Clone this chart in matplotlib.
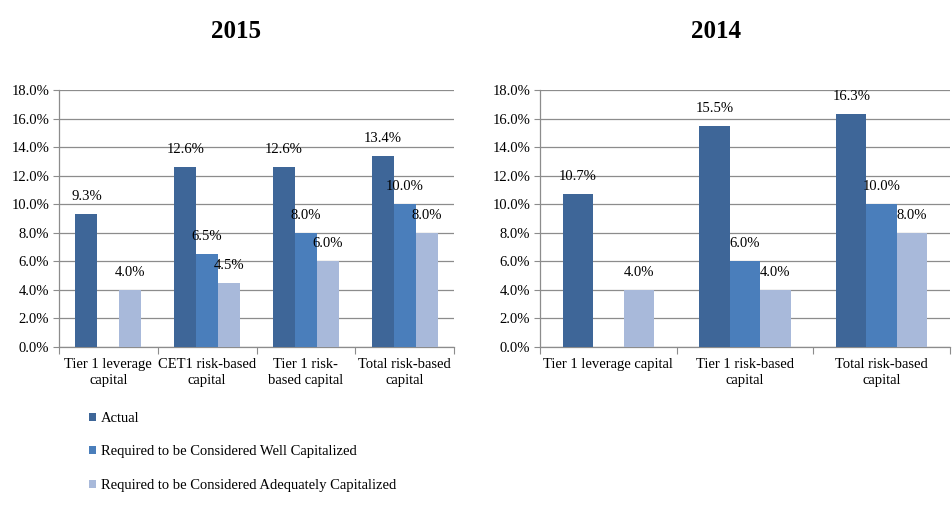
import numpy as np
import matplotlib
matplotlib.use("Agg")
import matplotlib.pyplot as plt
from matplotlib.patches import Patch

plt.rcParams['font.family'] = ['Liberation Serif', 'DejaVu Serif']

series = ["Actual",
          "Required to be Considered Well Capitalized",
          "Required to be Considered Adequately Capitalized"]
colors = ["#3E6698", "#4A7EBB", "#A8B9DA"]

cats_2015 = ["Tier 1 leverage\ncapital", "CET1 risk-based\ncapital",
             "Tier 1 risk-\nbased capital", "Total risk-based\ncapital"]
actual_2015 = [9.3, 12.6, 12.6, 13.4]
well_2015 = [np.nan, 6.5, 8.0, 10.0]
adequate_2015 = [4.0, 4.5, 6.0, 8.0]

cats_2014 = ["Tier 1 leverage capital", "Tier 1 risk-based\ncapital",
             "Total risk-based\ncapital"]
actual_2014 = [10.7, 15.5, 16.3]
well_2014 = [np.nan, 6.0, 10.0]
adequate_2014 = [4.0, 4.0, 8.0]

W, H = 952, 521
fig = plt.figure(figsize=(W / 100, H / 100), dpi=100)
grid_c = "#8C8C8C"
fs = 10.5


def draw(ax, cats, vals_list, width):
    n = len(cats)
    x = np.arange(n)
    for k, vals in enumerate(vals_list):
        xs = x + (k - 1) * width
        ax.bar(xs, vals, width=width, color=colors[k], zorder=3, linewidth=0)
        for xi, v in zip(xs, vals):
            if not np.isnan(v):
                ax.annotate(f"{v:.1f}%", (xi, v), xytext=(0, 12.5), textcoords="offset points",
                            ha="center", va="center", fontsize=fs, zorder=4)
    ax.set_xlim(-0.5, n - 0.5)
    ax.set_ylim(0, 18)
    ax.set_yticks(np.arange(0, 18.1, 2))
    ax.set_yticklabels([f"{t:.1f}%" for t in np.arange(0, 18.1, 2)], fontsize=fs)
    ax.yaxis.grid(True, color=grid_c, linewidth=0.9, zorder=0)
    ax.set_xticks(np.arange(-0.5, n, 1.0))
    ax.set_xticklabels([])
    ax.set_xticks(x, minor=True)
    ax.set_xticklabels(cats, minor=True, fontsize=fs, linespacing=1.25)
    ax.tick_params(axis="x", which="minor", length=0, pad=8)
    ax.tick_params(axis="x", which="major", length=5, color=grid_c)
    ax.tick_params(axis="y", length=4, color=grid_c, pad=3)
    for s in ["top", "right"]:
        ax.spines[s].set_visible(False)
    for s in ["left", "bottom"]:
        ax.spines[s].set_color(grid_c)
        ax.spines[s].set_linewidth(0.9)


ax1 = fig.add_axes([59 / W, 1 - 347 / H, (454 - 59) / W, (347 - 90) / H])
draw(ax1, cats_2015, [actual_2015, well_2015, adequate_2015], 0.222)
ax2 = fig.add_axes([540 / W, 1 - 347 / H, (950 - 540) / W, (347 - 90) / H])
draw(ax2, cats_2014, [actual_2014, well_2014, adequate_2014], 0.222)

fig.text(236 / W, 1 - 32 / H, "2015", ha="center", va="center", fontsize=18, fontweight="bold")
fig.text(716 / W, 1 - 32 / H, "2014", ha="center", va="center", fontsize=18, fontweight="bold")

handles = [Patch(facecolor=c, edgecolor="none") for c in colors]
fig.legend(handles, series, loc="upper left", bbox_to_anchor=(89 / W, 1 - 412 / H),
           frameon=False, fontsize=fs, handlelength=0.45, handleheight=0.45,
           handletextpad=0.35, labelspacing=1.4, borderaxespad=0, borderpad=0)

fig.savefig("out.png", dpi=100)
